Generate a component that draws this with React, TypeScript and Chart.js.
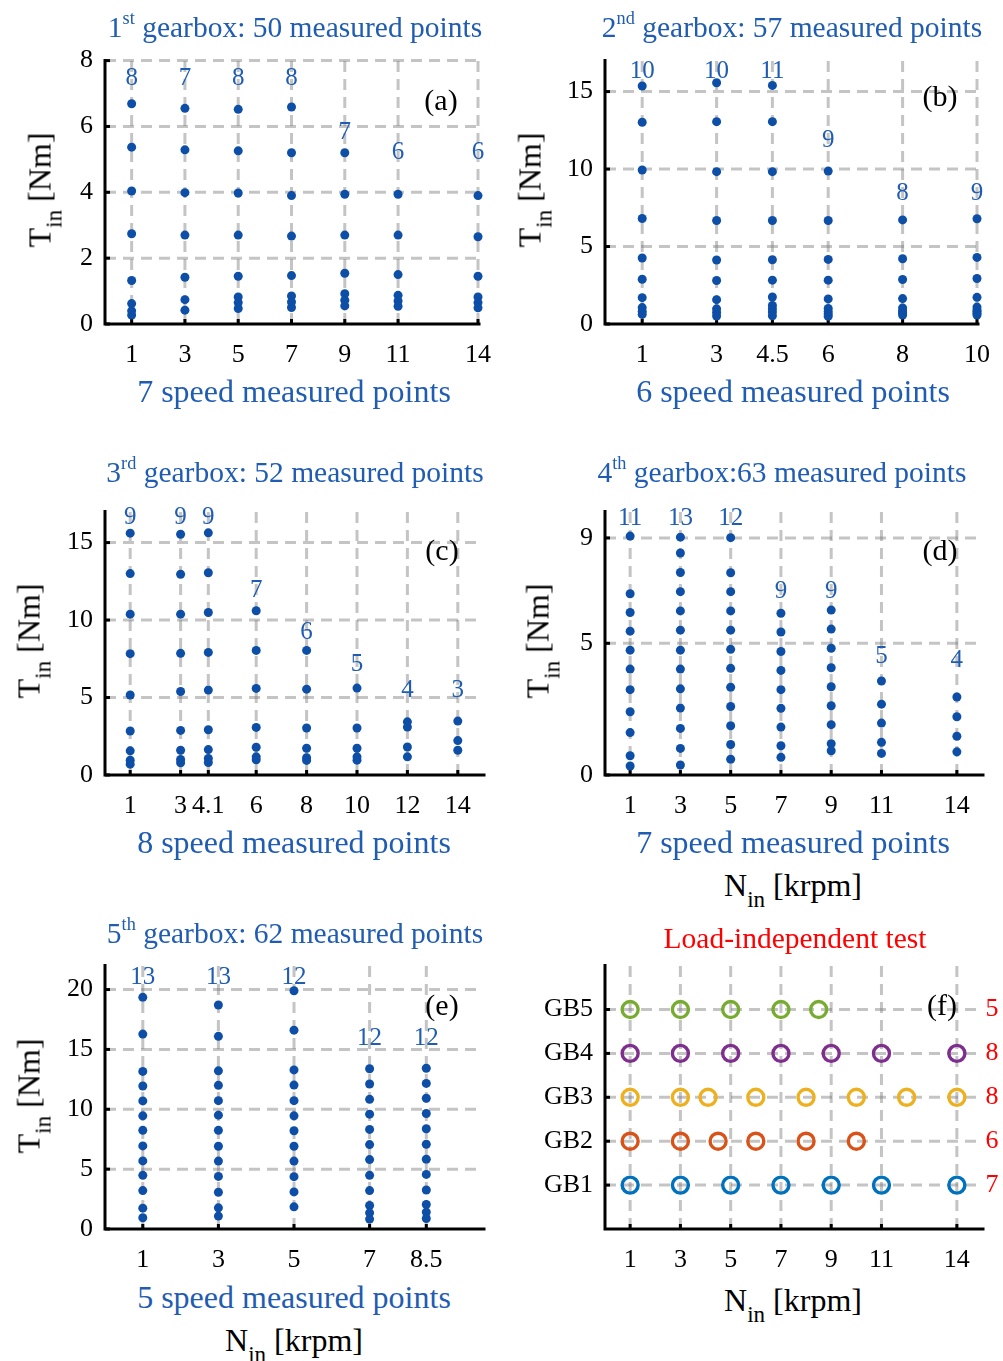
import React, { useEffect, useRef } from "react";
import { Chart, registerables } from "chart.js";
Chart.register(...registerables);

const SERIF = "'Liberation Serif', 'Times New Roman', Times, serif";
const DOT_BLUE = "#0d4ea7";
const TEXT_BLUE = "#1f5cb2";

// ---------- 1st gearbox ----------
const gb1Speeds = [1, 3, 5, 7, 9, 11, 14];
const gb1Torques = [
  [6.69, 5.37, 4.04, 2.74, 1.32, 0.62, 0.40, 0.27],
  [6.55, 5.29, 3.99, 2.70, 1.42, 0.74, 0.42],
  [6.52, 5.26, 3.98, 2.70, 1.45, 0.82, 0.65, 0.47],
  [6.59, 5.20, 3.90, 2.67, 1.47, 0.85, 0.67, 0.50],
  [5.20, 3.94, 2.70, 1.54, 0.92, 0.72, 0.55],
  [3.94, 2.70, 1.50, 0.87, 0.70, 0.54],
  [3.90, 2.65, 1.45, 0.82, 0.65, 0.49],
];
const gb1LabelY = [7.47, 7.47, 7.47, 7.47, 5.82, 5.22, 5.22];
const gb1YTicks = [0, 2, 4, 6, 8];

// ---------- 2nd gearbox ----------
const gb2Speeds = [1, 3, 4.5, 6, 8, 10];
const gb2Torques = [
  [15.36, 13.02, 9.94, 6.81, 4.26, 2.89, 1.70, 1.06, 0.81, 0.62],
  [15.57, 13.06, 9.83, 6.68, 4.13, 2.81, 1.57, 0.98, 0.74, 0.51],
  [15.40, 13.06, 9.83, 6.68, 4.15, 2.83, 1.74, 1.20, 0.98, 0.78, 0.53],
  [9.87, 6.68, 4.17, 2.83, 1.62, 1.00, 0.80, 0.65, 0.50],
  [6.72, 4.21, 2.87, 1.64, 1.04, 0.85, 0.72, 0.58],
  [6.79, 4.30, 2.94, 1.72, 1.09, 0.90, 0.80, 0.70, 0.58],
];
const gb2LabelY = [16.3, 16.3, 16.3, 11.85, 8.45, 8.45];
const gb2YTicks = [0, 5, 10, 15];

// ---------- 3rd gearbox ----------
const gb3Speeds = [1, 3, 4.1, 6, 8, 10, 12, 14];
const gb3Torques = [
  [15.61, 13.0, 10.38, 7.83, 5.16, 2.84, 1.56, 0.96, 0.70],
  [15.54, 12.96, 10.38, 7.85, 5.39, 2.88, 1.60, 1.0, 0.79],
  [15.63, 13.05, 10.49, 7.91, 5.48, 2.92, 1.64, 1.07, 0.81],
  [10.60, 8.04, 5.59, 3.07, 1.79, 1.17, 0.98],
  [8.04, 5.54, 3.03, 1.73, 1.11, 0.94],
  [5.61, 3.03, 1.73, 1.17, 0.96],
  [3.43, 3.09, 1.81, 1.17],
  [3.48, 2.22, 1.60],
];
const gb3LabelY = [16.63, 16.63, 16.63, 11.88, 9.17, 7.14, 5.44, 5.44];
const gb3YTicks = [0, 5, 10, 15];

// ---------- 4th gearbox ----------
const gb4Speeds = [1, 3, 5, 7, 9, 11, 14];
const gb4Torques = [
  [9.07, 6.88, 6.17, 5.46, 4.74, 4.02, 3.24, 2.40, 1.61, 0.73, 0.34],
  [9.03, 8.43, 7.69, 6.96, 6.23, 5.50, 4.74, 4.02, 3.27, 2.54, 1.77, 1.01, 0.38],
  [9.01, 7.68, 6.96, 6.23, 5.50, 4.77, 4.05, 3.33, 2.60, 1.87, 1.16, 0.60],
  [6.14, 5.43, 4.69, 3.97, 3.24, 2.53, 1.82, 1.11, 0.67],
  [6.26, 5.54, 4.81, 4.07, 3.35, 2.63, 1.91, 1.19, 0.92],
  [3.57, 2.69, 1.97, 1.24, 0.82],
  [2.96, 2.21, 1.47, 0.88],
];
const gb4LabelY = [9.74, 9.74, 9.74, 6.97, 6.97, 4.52, 4.36];
const gb4YTicks = [0, 5, 9];

// ---------- 5th gearbox ----------
const gb5Speeds = [1, 3, 5, 7, 8.5];
const gb5Torques = [
  [19.35, 16.28, 13.16, 11.94, 10.70, 9.45, 8.24, 6.94, 5.69, 4.48, 3.21, 1.74, 0.94],
  [18.71, 16.09, 13.21, 12.0, 10.72, 9.51, 8.24, 6.91, 5.67, 4.39, 3.07, 1.77, 1.08],
  [19.90, 16.61, 13.29, 12.02, 10.72, 9.45, 8.21, 6.91, 5.67, 4.37, 3.10, 1.85],
  [13.38, 12.11, 10.83, 9.59, 8.32, 7.05, 5.80, 4.48, 3.21, 1.96, 1.35, 0.83],
  [13.43, 12.16, 10.92, 9.65, 8.37, 7.08, 5.83, 4.56, 3.26, 2.05, 1.41, 0.88],
];
const gb5LabelY = [21.0, 21.0, 21.0, 15.95, 15.95];
const gb5YTicks = [0, 5, 10, 15, 20];

// ---------- Load-independent test ----------
const lidGearboxes = ["GB1", "GB2", "GB3", "GB4", "GB5"];
const lidSpeedsGB1 = [1, 3, 5, 7, 9, 11, 14];
const lidSpeedsGB2 = [1, 3, 4.5, 6, 8, 10];
const lidSpeedsGB3 = [1, 3, 4.1, 6, 8, 10, 12, 14];
const lidSpeedsGB4 = [1, 3, 5, 7, 9, 11, 14];
const lidSpeedsGB5 = [1, 3, 5, 7, 8.5];
const lidCounts = [7, 6, 8, 8, 5];
const lidColors = ["#0072bd", "#d95319", "#edb120", "#7e2f8e", "#77ac30"];
const lidXTicks = [1, 3, 5, 7, 9, 11, 14];

type PanelProps = {
  left: number;
  top: number;
  width: number;
  height: number;
  padL: number;
  xMax: number;
  yMax: number;
  xTicks: number[];
  yTicks: number[];
  yTickLabel?: (v: number) => string;
  datasets: any[];
  countLabels: { x: number; y: number; text: string }[];
  rightLabels?: { y: number; text: string }[];
};

const PAD_T = 24;
const PAD_R = 24;
const PAD_B = 50;

function Panel(p: PanelProps) {
  const ref = useRef<HTMLCanvasElement | null>(null);
  const cw = p.padL + p.width + PAD_R;
  const chh = PAD_T + p.height + PAD_B;
  useEffect(() => {
    if (!ref.current) return;
    const deco = {
      id: "deco",
      beforeDatasetsDraw(chart: any) {
        const { ctx, chartArea: ca } = chart;
        const xs = chart.scales.x;
        const ys = chart.scales.y;
        ctx.save();
        ctx.lineWidth = 3;
        ctx.strokeStyle = "rgba(125,125,125,0.45)";
        ctx.setLineDash([11, 7]);
        p.xTicks.forEach((v) => {
          const px = xs.getPixelForValue(v);
          ctx.beginPath();
          ctx.moveTo(px, ca.bottom);
          ctx.lineTo(px, ca.top);
          ctx.stroke();
        });
        p.yTicks.forEach((v) => {
          if (v === 0) return;
          const py = ys.getPixelForValue(v);
          ctx.beginPath();
          ctx.moveTo(ca.left, py);
          ctx.lineTo(ca.right, py);
          ctx.stroke();
        });
        ctx.setLineDash([]);
        ctx.strokeStyle = "#000";
        ctx.lineWidth = 3;
        ctx.lineCap = "square";
        ctx.beginPath();
        ctx.moveTo(ca.left, ca.top);
        ctx.lineTo(ca.left, ca.bottom);
        ctx.lineTo(ca.right + 1, ca.bottom);
        ctx.stroke();
        ctx.lineCap = "butt";
        p.xTicks.forEach((v) => {
          const px = xs.getPixelForValue(v);
          ctx.beginPath();
          ctx.moveTo(px, ca.bottom);
          ctx.lineTo(px, ca.bottom - 5);
          ctx.stroke();
        });
        p.yTicks.forEach((v) => {
          const py = ys.getPixelForValue(v);
          ctx.beginPath();
          ctx.moveTo(ca.left, py);
          ctx.lineTo(ca.left + 5, py);
          ctx.stroke();
        });
        ctx.restore();
      },
      afterDatasetsDraw(chart: any) {
        const { ctx, chartArea: ca } = chart;
        const xs = chart.scales.x;
        const ys = chart.scales.y;
        ctx.save();
        ctx.textAlign = "center";
        ctx.textBaseline = "middle";
        ctx.font = `25px ${SERIF}`;
        ctx.fillStyle = TEXT_BLUE;
        p.countLabels.forEach((l) => {
          ctx.fillText(l.text, xs.getPixelForValue(l.x), ys.getPixelForValue(l.y));
        });
        if (p.rightLabels) {
          ctx.fillStyle = "#ff0000";
          ctx.font = `26px ${SERIF}`;
          p.rightLabels.forEach((l) => {
            ctx.fillText(l.text, ca.right + 10, ys.getPixelForValue(l.y));
          });
        }
        ctx.restore();
      },
    };
    const chart = new Chart(ref.current, {
      type: "scatter",
      data: { datasets: p.datasets },
      options: {
        responsive: false,
        maintainAspectRatio: false,
        animation: false,
        events: [],
        layout: { padding: { top: PAD_T, right: PAD_R, left: 0, bottom: 0 } },
        plugins: { legend: { display: false }, tooltip: { enabled: false } },
        scales: {
          x: {
            type: "linear",
            min: 0,
            max: p.xMax,
            afterBuildTicks: (s: any) => {
              s.ticks = p.xTicks.map((v) => ({ value: v }));
            },
            afterFit: (s: any) => {
              s.height = PAD_B;
            },
            grid: { display: false, drawTicks: false },
            border: { display: false },
            ticks: {
              autoSkip: false,
              maxRotation: 0,
              minRotation: 0,
              padding: 16,
              color: "#000",
              font: { family: SERIF, size: 26 },
              callback: (v: any) => String(v),
            },
          },
          y: {
            type: "linear",
            min: 0,
            max: p.yMax,
            afterBuildTicks: (s: any) => {
              s.ticks = p.yTicks.map((v) => ({ value: v }));
            },
            afterFit: (s: any) => {
              s.width = p.padL;
            },
            grid: { display: false, drawTicks: false },
            border: { display: false },
            ticks: {
              autoSkip: false,
              padding: 12,
              color: "#000",
              font: { family: SERIF, size: 26 },
              callback: (v: any) => (p.yTickLabel ? p.yTickLabel(Number(v)) : String(v)),
            },
          },
        },
      },
      plugins: [deco],
    } as any);
    return () => chart.destroy();
  }, []);
  return (
    <canvas
      ref={ref}
      width={cw}
      height={chh}
      style={{ position: "absolute", left: p.left - p.padL, top: p.top - PAD_T, width: cw, height: chh }}
    />
  );
}

function dotDataset(speeds: number[], torques: number[][]) {
  const data: { x: number; y: number }[] = [];
  speeds.forEach((s, i) => torques[i].forEach((t) => data.push({ x: s, y: t })));
  return [
    {
      data,
      pointRadius: 4.5,
      pointBackgroundColor: DOT_BLUE,
      pointBorderWidth: 0,
      showLine: false,
      clip: false,
    },
  ];
}

function counts(speeds: number[], torques: number[][], labelY: number[]) {
  return speeds.map((s, i) => ({ x: s, y: labelY[i], text: String(torques[i].length) }));
}

function Txt(props: { x: number; base: number; size: number; color?: string; children: any }) {
  const { x, base, size, color, children } = props;
  return (
    <div
      style={{
        position: "absolute",
        left: x,
        top: base - 0.8375 * size,
        transform: "translateX(-50%)",
        fontFamily: SERIF,
        fontSize: size,
        lineHeight: `${size}px`,
        color: color || "#000",
        whiteSpace: "nowrap",
      }}
    >
      {children}
    </div>
  );
}

function Sup({ t }: { t: string }) {
  return <span style={{ fontSize: "0.62em", position: "relative", top: -13 }}>{t}</span>;
}
function Sub({ t }: { t: string }) {
  return <span style={{ fontSize: "0.72em", position: "relative", top: 11 }}>{t}</span>;
}

function VTxt({ cx, cy, size }: { cx: number; cy: number; size: number }) {
  return (
    <div
      style={{
        position: "absolute",
        left: cx,
        top: cy,
        transform: "translate(-50%,-50%) rotate(-90deg)",
        fontFamily: SERIF,
        fontSize: size,
        lineHeight: `${size}px`,
        whiteSpace: "nowrap",
        color: "#000",
      }}
    >
      T<Sub t="in" /> [Nm]
    </div>
  );
}

const COL_L = [105, 605];
const COL_W = [378, 377];
const ROW_T = [57, 508, 962];
const ROW_H = 267;

export default function App() {
  const lidSpeeds = [lidSpeedsGB1, lidSpeedsGB2, lidSpeedsGB3, lidSpeedsGB4, lidSpeedsGB5];
  const lidDatasets = lidSpeeds.map((sp, i) => ({
    data: sp.map((s) => ({ x: s, y: i + 1 })),
    pointRadius: 8,
    pointBorderWidth: 3.4,
    pointBorderColor: lidColors[i],
    pointBackgroundColor: "rgba(0,0,0,0)",
    showLine: false,
    clip: false,
  }));
  return (
    <div style={{ position: "absolute", left: 0, top: 0, width: 1003, height: 1361, background: "#fff" }}>
      <Panel
        left={COL_L[0]} top={ROW_T[0]} width={COL_W[0]} height={ROW_H} padL={80}
        xMax={14} yMax={8} xTicks={gb1Speeds} yTicks={gb1YTicks}
        datasets={dotDataset(gb1Speeds, gb1Torques)}
        countLabels={counts(gb1Speeds, gb1Torques, gb1LabelY)}
      />
      <Panel
        left={COL_L[1]} top={ROW_T[0]} width={COL_W[1]} height={ROW_H} padL={80}
        xMax={10} yMax={17} xTicks={gb2Speeds} yTicks={gb2YTicks}
        datasets={dotDataset(gb2Speeds, gb2Torques)}
        countLabels={counts(gb2Speeds, gb2Torques, gb2LabelY)}
      />
      <Panel
        left={COL_L[0]} top={ROW_T[1]} width={COL_W[0]} height={ROW_H} padL={80}
        xMax={15} yMax={17} xTicks={gb3Speeds} yTicks={gb3YTicks}
        datasets={dotDataset(gb3Speeds, gb3Torques)}
        countLabels={counts(gb3Speeds, gb3Torques, gb3LabelY)}
      />
      <Panel
        left={COL_L[1]} top={ROW_T[1]} width={COL_W[1]} height={ROW_H} padL={80}
        xMax={15} yMax={10} xTicks={gb4Speeds} yTicks={gb4YTicks}
        datasets={dotDataset(gb4Speeds, gb4Torques)}
        countLabels={counts(gb4Speeds, gb4Torques, gb4LabelY)}
      />
      <Panel
        left={COL_L[0]} top={ROW_T[2]} width={COL_W[0]} height={ROW_H} padL={80}
        xMax={10} yMax={22} xTicks={gb5Speeds} yTicks={gb5YTicks}
        datasets={dotDataset(gb5Speeds, gb5Torques)}
        countLabels={counts(gb5Speeds, gb5Torques, gb5LabelY)}
      />
      <Panel
        left={COL_L[1]} top={ROW_T[2]} width={COL_W[1]} height={ROW_H} padL={100}
        xMax={15} yMax={6} xTicks={lidXTicks} yTicks={[1, 2, 3, 4, 5]}
        yTickLabel={(v) => lidGearboxes[v - 1] || ""}
        datasets={lidDatasets}
        countLabels={[]}
        rightLabels={lidCounts.map((c, i) => ({ y: i + 1, text: String(c) }))}
      />

      {/* Titles */}
      <Txt x={295} base={38} size={29.5} color={TEXT_BLUE}>1<Sup t="st" /> gearbox: 50 measured points</Txt>
      <Txt x={792} base={38} size={29.5} color={TEXT_BLUE}>2<Sup t="nd" /> gearbox: 57 measured points</Txt>
      <Txt x={295} base={483} size={29.5} color={TEXT_BLUE}>3<Sup t="rd" /> gearbox: 52 measured points</Txt>
      <Txt x={782} base={483} size={29.5} color={TEXT_BLUE}>4<Sup t="th" /> gearbox:63 measured points</Txt>
      <Txt x={295} base={944} size={29.5} color={TEXT_BLUE}>5<Sup t="th" /> gearbox: 62 measured points</Txt>
      <Txt x={795} base={949} size={29.5} color="#ff0000">Load-independent test</Txt>

      {/* Panel tags */}
      <Txt x={441} base={110} size={30}>(a)</Txt>
      <Txt x={940} base={106} size={30}>(b)</Txt>
      <Txt x={442} base={560} size={30}>(c)</Txt>
      <Txt x={940} base={560} size={30}>(d)</Txt>
      <Txt x={442} base={1015} size={30}>(e)</Txt>
      <Txt x={942} base={1015} size={30}>(f)</Txt>

      {/* X-axis titles */}
      <Txt x={294} base={402} size={32} color={TEXT_BLUE}>7 speed measured points</Txt>
      <Txt x={793} base={402} size={32} color={TEXT_BLUE}>6 speed measured points</Txt>
      <Txt x={294} base={853} size={32} color={TEXT_BLUE}>8 speed measured points</Txt>
      <Txt x={793} base={853} size={32} color={TEXT_BLUE}>7 speed measured points</Txt>
      <Txt x={294} base={1308} size={32} color={TEXT_BLUE}>5 speed measured points</Txt>
      <Txt x={793} base={896} size={32}>N<Sub t="in" /> [krpm]</Txt>
      <Txt x={294} base={1351} size={32}>N<Sub t="in" /> [krpm]</Txt>
      <Txt x={793} base={1311} size={32}>N<Sub t="in" /> [krpm]</Txt>

      {/* Y-axis titles */}
      <VTxt cx={41} cy={190} size={32} />
      <VTxt cx={531} cy={190} size={32} />
      <VTxt cx={30} cy={641} size={32} />
      <VTxt cx={539} cy={641} size={32} />
      <VTxt cx={30} cy={1096} size={32} />
    </div>
  );
}
